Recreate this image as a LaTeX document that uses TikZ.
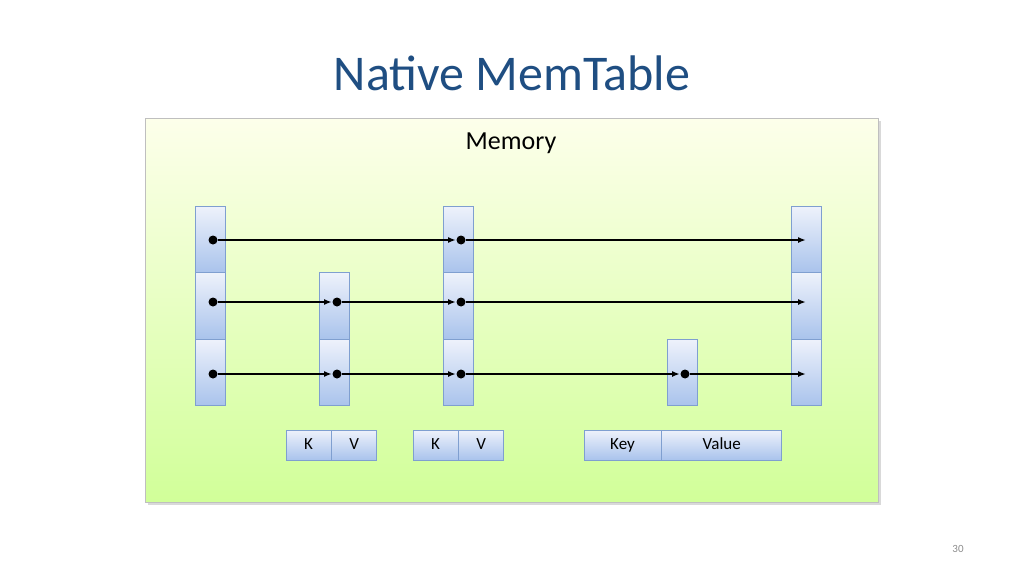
\documentclass[tikz,border=0pt]{standalone}
\usepackage{fontspec}
\setmainfont{Carlito}
\usetikzlibrary{arrows.meta}
\definecolor{titleblue}{HTML}{1F4E82}
\definecolor{cellline}{HTML}{7F9FD0}
\definecolor{celltop}{HTML}{EEF2FB}
\definecolor{cellbot}{HTML}{A9C3EC}
\tikzset{
  cell/.style={draw=cellline, thick, top color=celltop, bottom color=cellbot, minimum width=30pt, minimum height=66.5pt, inner sep=0pt},
  kv/.style={draw=cellline, thick, top color=celltop, bottom color=cellbot, minimum height=30pt, inner sep=0pt, text height=11pt, text depth=3pt, font=\fontsize{17}{17}\selectfont},
  link/.style={-{Latex[length=8pt,width=6pt]}, line width=1.6pt},
  dot/.style={circle, fill=black, inner sep=0pt, minimum size=9pt}
}
\begin{document}
\begin{tikzpicture}[x=1pt,y=-1pt]
\useasboundingbox (0,0) rectangle (1024,575);
%1. 背景与标题
\node[text=titleblue, font=\fontsize{50}{50}\selectfont] (title) at (512,73) {Na{}tive MemTable};
\fill[black!15] (148,121) rectangle (881,505);
\shade[draw=black!25, top color=green!10!yellow!8, bottom color=green!45!yellow!40] (145,118) rectangle (878,502);
\node[font=\fontsize{26}{26}\selectfont] (mem) at (511,143) {Memory};
%2. 各列的单元格
\foreach \c/\x/\rows in {a/210/{1,2,3}, b/334/{2,3}, c/458/{1,2,3}, d/682/{3}, e/806/{1,2,3}}
  \foreach \r in \rows
    \node[cell] (\c\r) at (\x, 206+66.5*\r-33.25) {};
%3. 指针与链接
\foreach \r/\y in {1/240,2/302,3/374}
  \foreach \c in {a,b,c,d,e}
    \coordinate (q\c\r) at (\c3.center |- 0,\y);
\foreach \s/\t/\r/\g in {a/c/1/2, c/e/1/0, a/b/2/2, b/c/2/2, c/e/2/0, a/b/3/2, b/c/3/2, c/d/3/2, d/e/3/0}{
  \node[dot] (d\s\r) at ([xshift=3pt]q\s\r) {};
  \draw[link] (d\s\r) -- ([xshift=-\g pt]q\t\r);
}
%4. 键值对
\node[kv, minimum width=45pt] (k1) at (308.5,445) {K};
\node[kv, minimum width=45pt, anchor=west] (v1) at (k1.east) {V};
\node[kv, minimum width=45pt] (k2) at (435.5,445) {K};
\node[kv, minimum width=45pt, anchor=west] (v2) at (k2.east) {V};
\node[kv, minimum width=77pt] (k3) at (622.5,445) {Key};
\node[kv, minimum width=120pt, anchor=west] (v3) at (k3.east) {Value};
\node[text=black!45, font=\fontsize{11}{11}\selectfont] (page) at (958,549) {30};
\end{tikzpicture}
\end{document}
